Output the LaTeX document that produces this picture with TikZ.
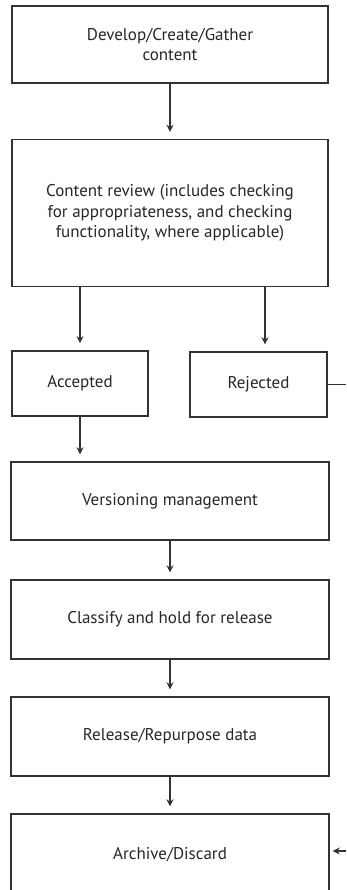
\documentclass[tikz,border=0pt]{standalone}
\usepackage{fontspec}
\setmainfont{PT Sans}
\usepackage{tikz}
\usetikzlibrary{positioning}
\usetikzlibrary{arrows.meta}

\definecolor{linegray}{HTML}{333333}
\tikzset{
  stage/.style={draw=linegray, line width=1.4pt, rectangle, align=center, inner sep=0pt,
    text=black!85, font=\fontsize{17}{20.5}\selectfont},
  flow/.style={draw=linegray, line width=1.4pt, -{Stealth[length=7pt,width=7pt]}, shorten >=7pt}
}

\begin{document}
\begin{tikzpicture}[x=1pt,y=-1pt]
        \useasboundingbox (0,0) rectangle (346,890);
        \clip (0,0) rectangle (346,890);

        \node[stage, minimum width=316pt, minimum height=77pt] (develop) at (170,44.5) {Develop/Create/Gather\\content};
        \node[stage, minimum width=316pt, minimum height=147pt] (review) at (170,213) {Content review (includes checking\\for appropriateness, and checking\\functionality, where applicable)};
        \node[stage, minimum width=136pt, minimum height=65pt] (accepted) at (80,383.3) {Accepted};
        \node[stage, minimum width=137pt, minimum height=65pt] (rejected) at (258.5,384.5) {Rejected};
        \node[stage, minimum width=318pt, minimum height=78pt] (versioning) at (170,501) {Versioning management};
        \node[stage, minimum width=318pt, minimum height=79pt] (classify) at (170,619.5) {Classify and hold for release};
        \node[stage, minimum width=318pt, minimum height=79pt] (release) at (170,736.5) {Release/Repurpose data};
        \node[stage, minimum width=318pt, minimum height=82pt] (archive) at (170,855) {Archive/Discard};

        % free ends at the right margin
        \coordinate (rejout) at (346,383);
        \coordinate (archin) at (346,851);

        \draw[flow] (develop.south) -- (review.north);
        \draw[flow] ([xshift=-90pt]review.south) -- (accepted.north);
        \draw[flow] ([xshift=95pt]review.south) -- ([xshift=95pt]review.south |- rejected.north);
        \draw[flow] (accepted.south) -- (accepted.south |- versioning.north);
        \draw[flow] (versioning.south) -- (classify.north);
        \draw[flow] (classify.south) -- (release.north);
        \draw[flow] (release.south) -- (archive.north);
        \draw[draw=linegray, line width=1.4pt] (rejected.east) -- (rejected.east -| rejout);
        \draw[flow, shorten >=3pt] (archin) -- (archive.east |- archin);
\end{tikzpicture}
\end{document}
